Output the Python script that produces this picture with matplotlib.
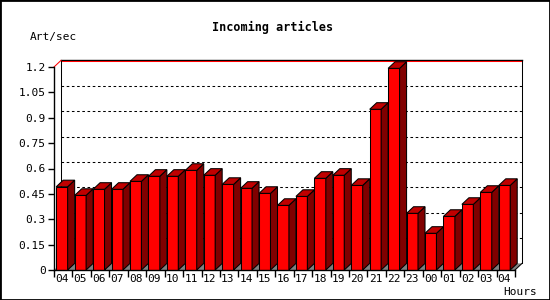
import numpy as np
import matplotlib
matplotlib.use("Agg")
import matplotlib.pyplot as plt
from matplotlib.patches import Polygon, Rectangle

# hourly rate
hours = ["04", "05", "06", "07", "08", "09", "10", "11", "12", "13", "14", "15",
         "16", "17", "18", "19", "20", "21", "22", "23", "00", "01", "02", "03", "04"]
rates = [0.492, 0.441, 0.477, 0.477, 0.524, 0.554, 0.554, 0.589, 0.560, 0.506,
         0.483, 0.453, 0.382, 0.435, 0.542, 0.560, 0.500, 0.950, 1.192, 0.335,
         0.217, 0.317, 0.388, 0.459, 0.500]
yticks = [0, 0.15, 0.3, 0.45, 0.6, 0.75, 0.9, 1.05, 1.2]
ytick_labels = ["0", "0.15", "0.3", "0.45", "0.6", "0.75", "0.9", "1.05", "1.2"]

mono = "DejaVu Sans Mono"
lw = 0.75
fig = plt.figure(figsize=(5.5, 3), dpi=100)
fig.patch.set_facecolor("white")
fig.patches.append(Rectangle((0, 0), 1, 1, transform=fig.transFigure, fill=False,
                             edgecolor="black", lw=2))

ax = fig.add_axes([54 / 550, 30 / 300, 461 / 550, 203 / 300])
ax.set_facecolor("none")
x0, x1 = -0.43, len(rates) - 0.43
ax.set_xlim(x0, x1)
ax.set_ylim(0, 1.2)

# 3d depth in data units
dx, dy = 0.38, 0.039
w = 0.62

# floor and back plane
ax.add_patch(Polygon([(x0, 0), (x1, 0), (x1 + dx, dy), (x0 + dx, dy)],
                     closed=True, facecolor="#808080", edgecolor="none", zorder=1, clip_on=False))
for v in yticks[1:-1]:
    ax.plot([x0 + dx, x1 + dx], [v + dy, v + dy], color="black", lw=lw,
            linestyle=(0, (2.5, 2.5)), zorder=1, clip_on=False)
ax.plot([x0 + dx, x1 + dx], [1.2 + dy, 1.2 + dy], color="black", lw=1, zorder=1, clip_on=False)
ax.plot([x0 + dx, x1 + dx], [1.2 + dy - 0.005, 1.2 + dy - 0.005], color="red", lw=lw, zorder=1, clip_on=False)
ax.plot([x0 + dx, x0 + dx], [dy, 1.2 + dy], color="black", lw=lw, zorder=1, clip_on=False)
ax.plot([x1 + dx, x1 + dx], [dy, 1.2 + dy], color="black", lw=lw, zorder=1, clip_on=False)
ax.plot([x0, x0 + dx], [1.2, 1.2 + dy], color="red", lw=lw, zorder=1, clip_on=False)
ax.plot([x1, x1 + dx], [0, dy], color="black", lw=lw, zorder=1, clip_on=False)

# bars
xs = np.arange(len(rates))
ax.bar(xs, rates, width=w, color="#ff0000", edgecolor="black", lw=lw, zorder=3)
for x, v in zip(xs, rates):
    r = x + w / 2
    l = x - w / 2
    ax.add_patch(Polygon([(r, 0), (r + dx, dy), (r + dx, v + dy), (r, v)], closed=True,
                         facecolor="#800000", edgecolor="black", lw=lw, zorder=3, clip_on=False))
    ax.add_patch(Polygon([(l, v), (l + dx, v + dy), (r + dx, v + dy), (r, v)], closed=True,
                         facecolor="#c00000", edgecolor="black", lw=lw, zorder=3, clip_on=False))

# axes
for s in ["top", "right"]:
    ax.spines[s].set_visible(False)
ax.spines["left"].set_linewidth(1)
ax.spines["bottom"].set_linewidth(1)
ax.spines["left"].set_zorder(4)
ax.spines["bottom"].set_zorder(4)
ax.set_yticks(yticks)
ax.set_yticklabels(ytick_labels, fontfamily=mono, fontsize=8)
ax.tick_params(axis="y", direction="out", length=4, width=1, pad=2)
ax.set_xticks(xs)
ax.set_xticklabels(hours, fontfamily=mono, fontsize=8)
ax.set_xticks(np.arange(len(rates) + 1) + x0, minor=True)
ax.tick_params(axis="x", which="major", length=0, pad=3)
ax.tick_params(axis="x", which="minor", direction="out", length=5, width=1)

fig.text(273 / 550, 1 - 27 / 300, "Incoming articles", ha="center", va="center",
         fontfamily=mono, fontweight="bold", fontsize=8.5)
fig.text(30 / 550, 1 - 37 / 300, "Art/sec", ha="left", va="center", fontfamily=mono, fontsize=8)
fig.text(503 / 550, 1 - 292 / 300, "Hours", ha="left", va="center", fontfamily=mono, fontsize=8)

fig.savefig("out.png", dpi=100)
